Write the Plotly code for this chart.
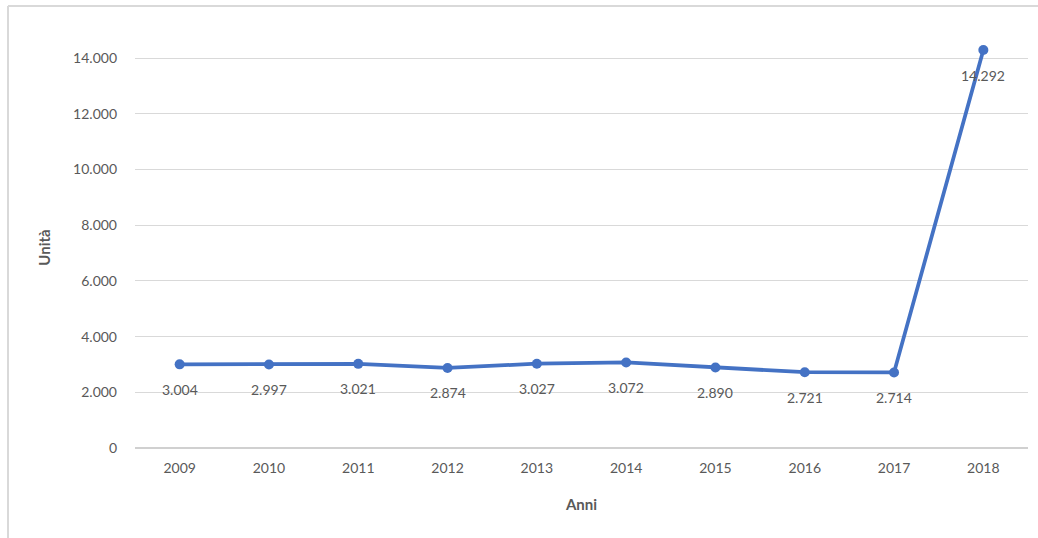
import plotly.graph_objects as go

anni = ["2009", "2010", "2011", "2012", "2013", "2014", "2015", "2016", "2017", "2018"]
unita = [3004, 2997, 3021, 2874, 3027, 3072, 2890, 2721, 2714, 14292]
y_ticks = [0, 2000, 4000, 6000, 8000, 10000, 12000, 14000]

W, H = 1038, 538
ML, MR, MT, MB = 135, 10, 47, 90
pw = W - ML - MR
ph = H - MT - MB

FONT = "Lato, 'Open Sans', sans-serif"
GRAY = "#595959"
BLUE = "#4472C4"

xs = [int(a) for a in anni]

fig = go.Figure()
fig.add_trace(go.Scatter(
    x=xs, y=unita, mode="lines+markers",
    line=dict(color=BLUE, width=3.75),
    marker=dict(color=BLUE, size=10),
    cliponaxis=False, hoverinfo="skip", showlegend=False,
))

def fmt(v):
    return f"{v:,}".replace(",", ".")

for a, v in zip(xs, unita):
    fig.add_annotation(x=a, y=v, text=fmt(v), showarrow=False, yshift=-25,
                       font=dict(family=FONT, size=14, color=GRAY))

def px_x(p):
    return (p - ML) / pw

def px_y(p):
    return (H - MB - p) / ph

frame = dict(color="#D9D9D9", width=2)
fig.add_shape(type="line", xref="paper", yref="paper",
              x0=px_x(8), x1=px_x(W), y0=px_y(6), y1=px_y(6), line=frame)
fig.add_shape(type="line", xref="paper", yref="paper",
              x0=px_x(8), x1=px_x(8), y0=px_y(6), y1=px_y(H), line=frame)

fig.update_layout(
    width=W, height=H,
    margin=dict(l=ML, r=MR, t=MT, b=MB),
    paper_bgcolor="white", plot_bgcolor="white",
    separators=",.",
    font=dict(family=FONT, size=14, color=GRAY),
    xaxis=dict(
        range=[xs[0] - 0.5, xs[-1] + 0.5],
        tickvals=xs, ticktext=anni,
        showgrid=False, showline=False, ticks="", zeroline=False,
        ticklabelstandoff=10,
        tickfont=dict(family=FONT, size=14, color=GRAY),
        title=dict(text="<b>Anni</b>", font=dict(family=FONT, size=15, color=GRAY), standoff=24),
        fixedrange=True,
    ),
    yaxis=dict(
        range=[0, 14400], tickvals=y_ticks, tickformat=",d",
        showgrid=True, gridcolor="#D9D9D9", gridwidth=1,
        zeroline=True, zerolinecolor="#D0D0D0", zerolinewidth=1.5,
        showline=False, ticks="",
        ticklabelstandoff=17,
        tickfont=dict(family=FONT, size=14, color=GRAY),
        title=dict(text="<b>Unità</b>", font=dict(family=FONT, size=15, color=GRAY), standoff=18),
        fixedrange=True,
    ),
)

fig.write_html("out.html")
